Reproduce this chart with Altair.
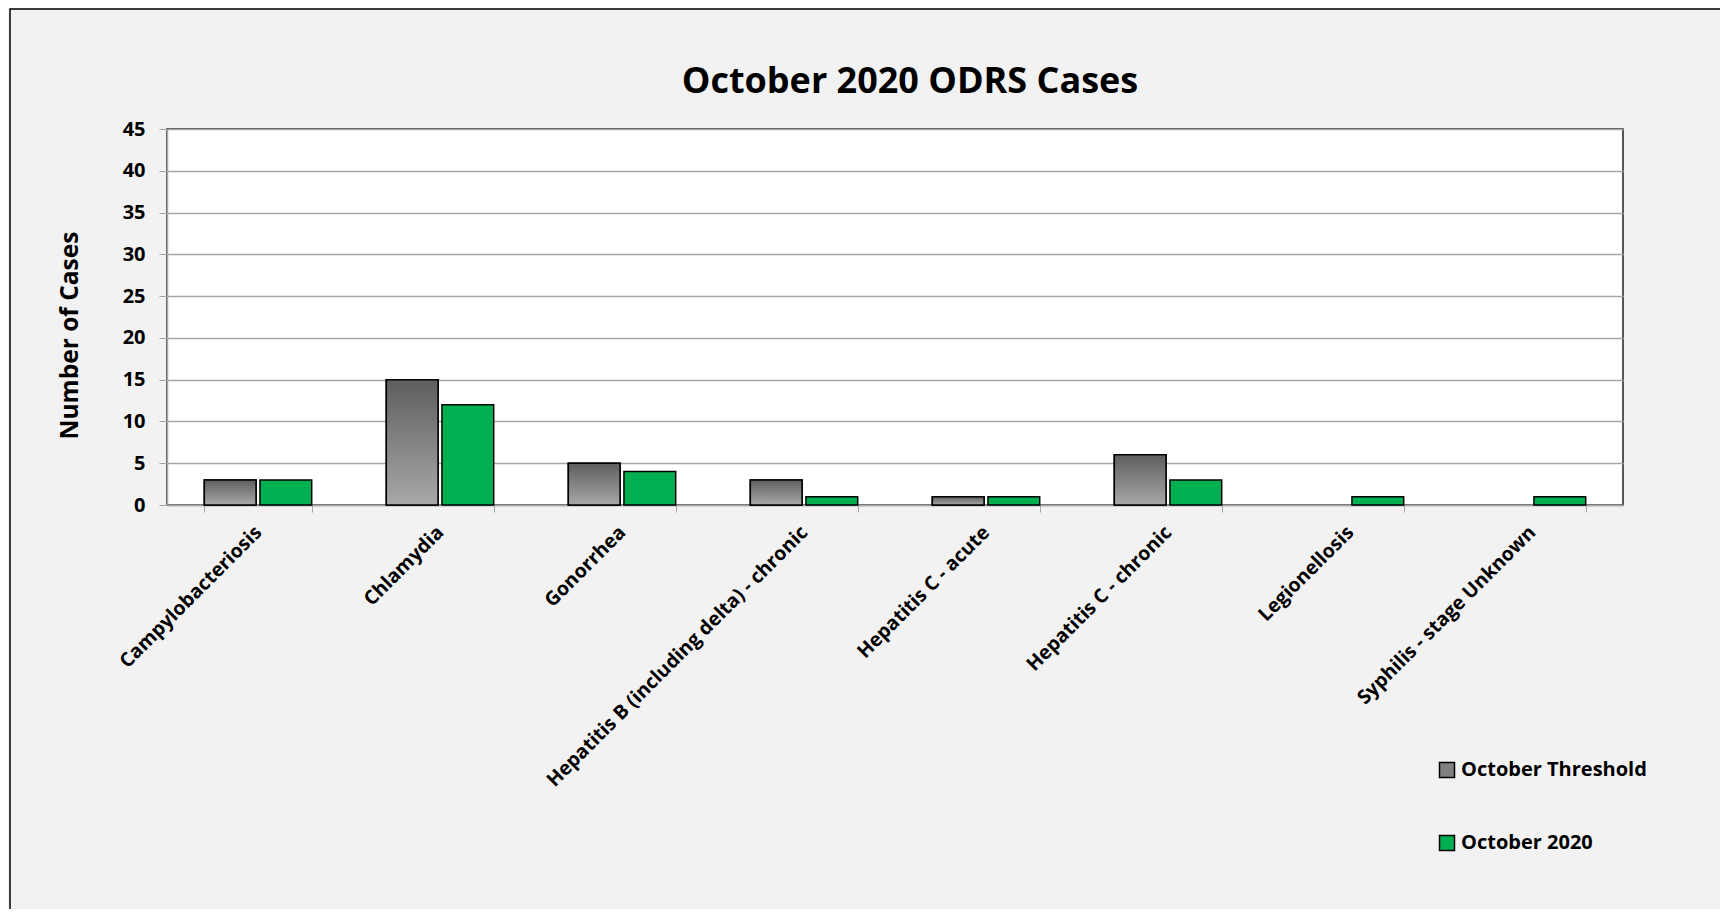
import altair as alt
import pandas as pd

categories = [
    "Campylobacteriosis",
    "Chlamydia",
    "Gonorrhea",
    "Hepatitis B (including delta) - chronic",
    "Hepatitis C - acute",
    "Hepatitis C - chronic",
    "Legionellosis",
    "Syphilis - stage Unknown",
]
series = ["October Threshold", "October 2020"]
threshold = [3, 15, 5, 3, 1, 6, None, None]
october_2020 = [3, 12, 4, 1, 1, 3, 1, 1]
y_ticks = [0, 5, 10, 15, 20, 25, 30, 35, 40, 45]

rows = []
for c, t, o in zip(categories, threshold, october_2020):
    if t is not None:
        rows.append({"Disease": c, "Series": series[0], "Cases": t})
    if o is not None:
        rows.append({"Disease": c, "Series": series[1], "Cases": o})
df = pd.DataFrame(rows)

FONT = "Open Sans"
GRID = "#a6a6a6"

x_enc = alt.X(
    "Disease:N",
    sort=categories,
    scale=alt.Scale(domain=categories, paddingInner=0.41, paddingOuter=0.205),
    axis=alt.Axis(
        title=None,
        labelAngle=-45,
        labelAlign="right",
        labelBaseline="middle",
        labelFont=FONT,
        labelFontSize=19.5,
        labelFontWeight="bold",
        labelColor="black",
        labelPadding=17,
        labelLimit=0,
        tickBand="extent",
        tickSize=7,
        tickColor=GRID,
        domainColor=GRID,
        domainWidth=1.5,
        grid=False,
    ),
)
xoff_enc = alt.XOffset(
    "Series:N", sort=series, scale=alt.Scale(domain=series, paddingInner=0.07)
)
y_enc = alt.Y(
    "Cases:Q",
    scale=alt.Scale(domain=[0, 45], nice=False),
    axis=alt.Axis(
        title="Number of Cases",
        values=y_ticks,
        labelFont=FONT,
        labelFontSize=20,
        labelFontWeight="bold",
        labelColor="black",
        labelPadding=14,
        tickSize=8,
        tickColor=GRID,
        domainColor=GRID,
        domainWidth=1.5,
        gridColor=GRID,
        gridWidth=1.5,
        titleFont=FONT,
        titleFontSize=24.5,
        titleFontWeight="bold",
        titleColor="black",
        titleAngle=-90,
        titleX=-85,
        titleY=206,
        titleAlign="center",
        titleBaseline="bottom",
    ),
)

bars = alt.Chart(df).mark_bar(stroke="black", strokeWidth=1.5).encode(
    x=x_enc,
    xOffset=xoff_enc,
    y=y_enc,
    color=alt.Color(
        "Series:N",
        sort=series,
        scale=alt.Scale(domain=series, range=["#808080", "#00b050"]),
        legend=alt.Legend(
            title=None,
            orient="none",
            legendX=1270,
            legendY=631,
            direction="vertical",
            padding=0,
            symbolType="square",
            symbolSize=225,
            symbolStrokeColor="black",
            symbolStrokeWidth=1.5,
            symbolOpacity=1,
            labelFont=FONT,
            labelFontSize=20,
            labelFontWeight="bold",
            labelColor="black",
            labelOffset=4,
            labelLimit=0,
            rowPadding=51,
        ),
    ),
)

gradient = alt.Gradient(
    gradient="linear",
    stops=[
        alt.GradientStop(color="#5e5e5e", offset=0),
        alt.GradientStop(color="#a8a8a8", offset=1),
    ],
    x1=0, x2=0, y1=0, y2=1,
)

overlay = (
    alt.Chart(df)
    .transform_filter(alt.datum.Series == series[0])
    .mark_bar(fill=gradient, stroke="black", strokeWidth=1.5)
    .encode(x=x_enc, xOffset=xoff_enc, y=y_enc)
)

frame = (
    alt.Chart(pd.DataFrame({"k": [0]}))
    .mark_rect(fill=None, stroke="black", strokeWidth=1.5, clip=False)
    .encode(
        x=alt.value(-157),
        x2=alt.value(1700),
        y=alt.value(-120),
        y2=alt.value(900),
    )
)

chart = (
    alt.layer(bars, overlay, frame)
    .properties(
        width=1456,
        height=376,
        background="#f2f2f2",
        padding={"left": 159, "top": 121, "right": 97, "bottom": 404},
        autosize=alt.AutoSizeParams(type="none"),
        title=alt.TitleParams(
            "October 2020 ODRS Cases",
            font=FONT,
            fontSize=36,
            fontWeight="bold",
            color="black",
            anchor="middle",
            frame="group",
            baseline="alphabetic",
            dx=15,
            offset=0,
            dy=121,
        ),
    )
    .configure_view(fill="white", stroke="#222222", strokeWidth=1.5)
)

chart.save("out.html", embed_options={"renderer": "svg", "actions": False})
